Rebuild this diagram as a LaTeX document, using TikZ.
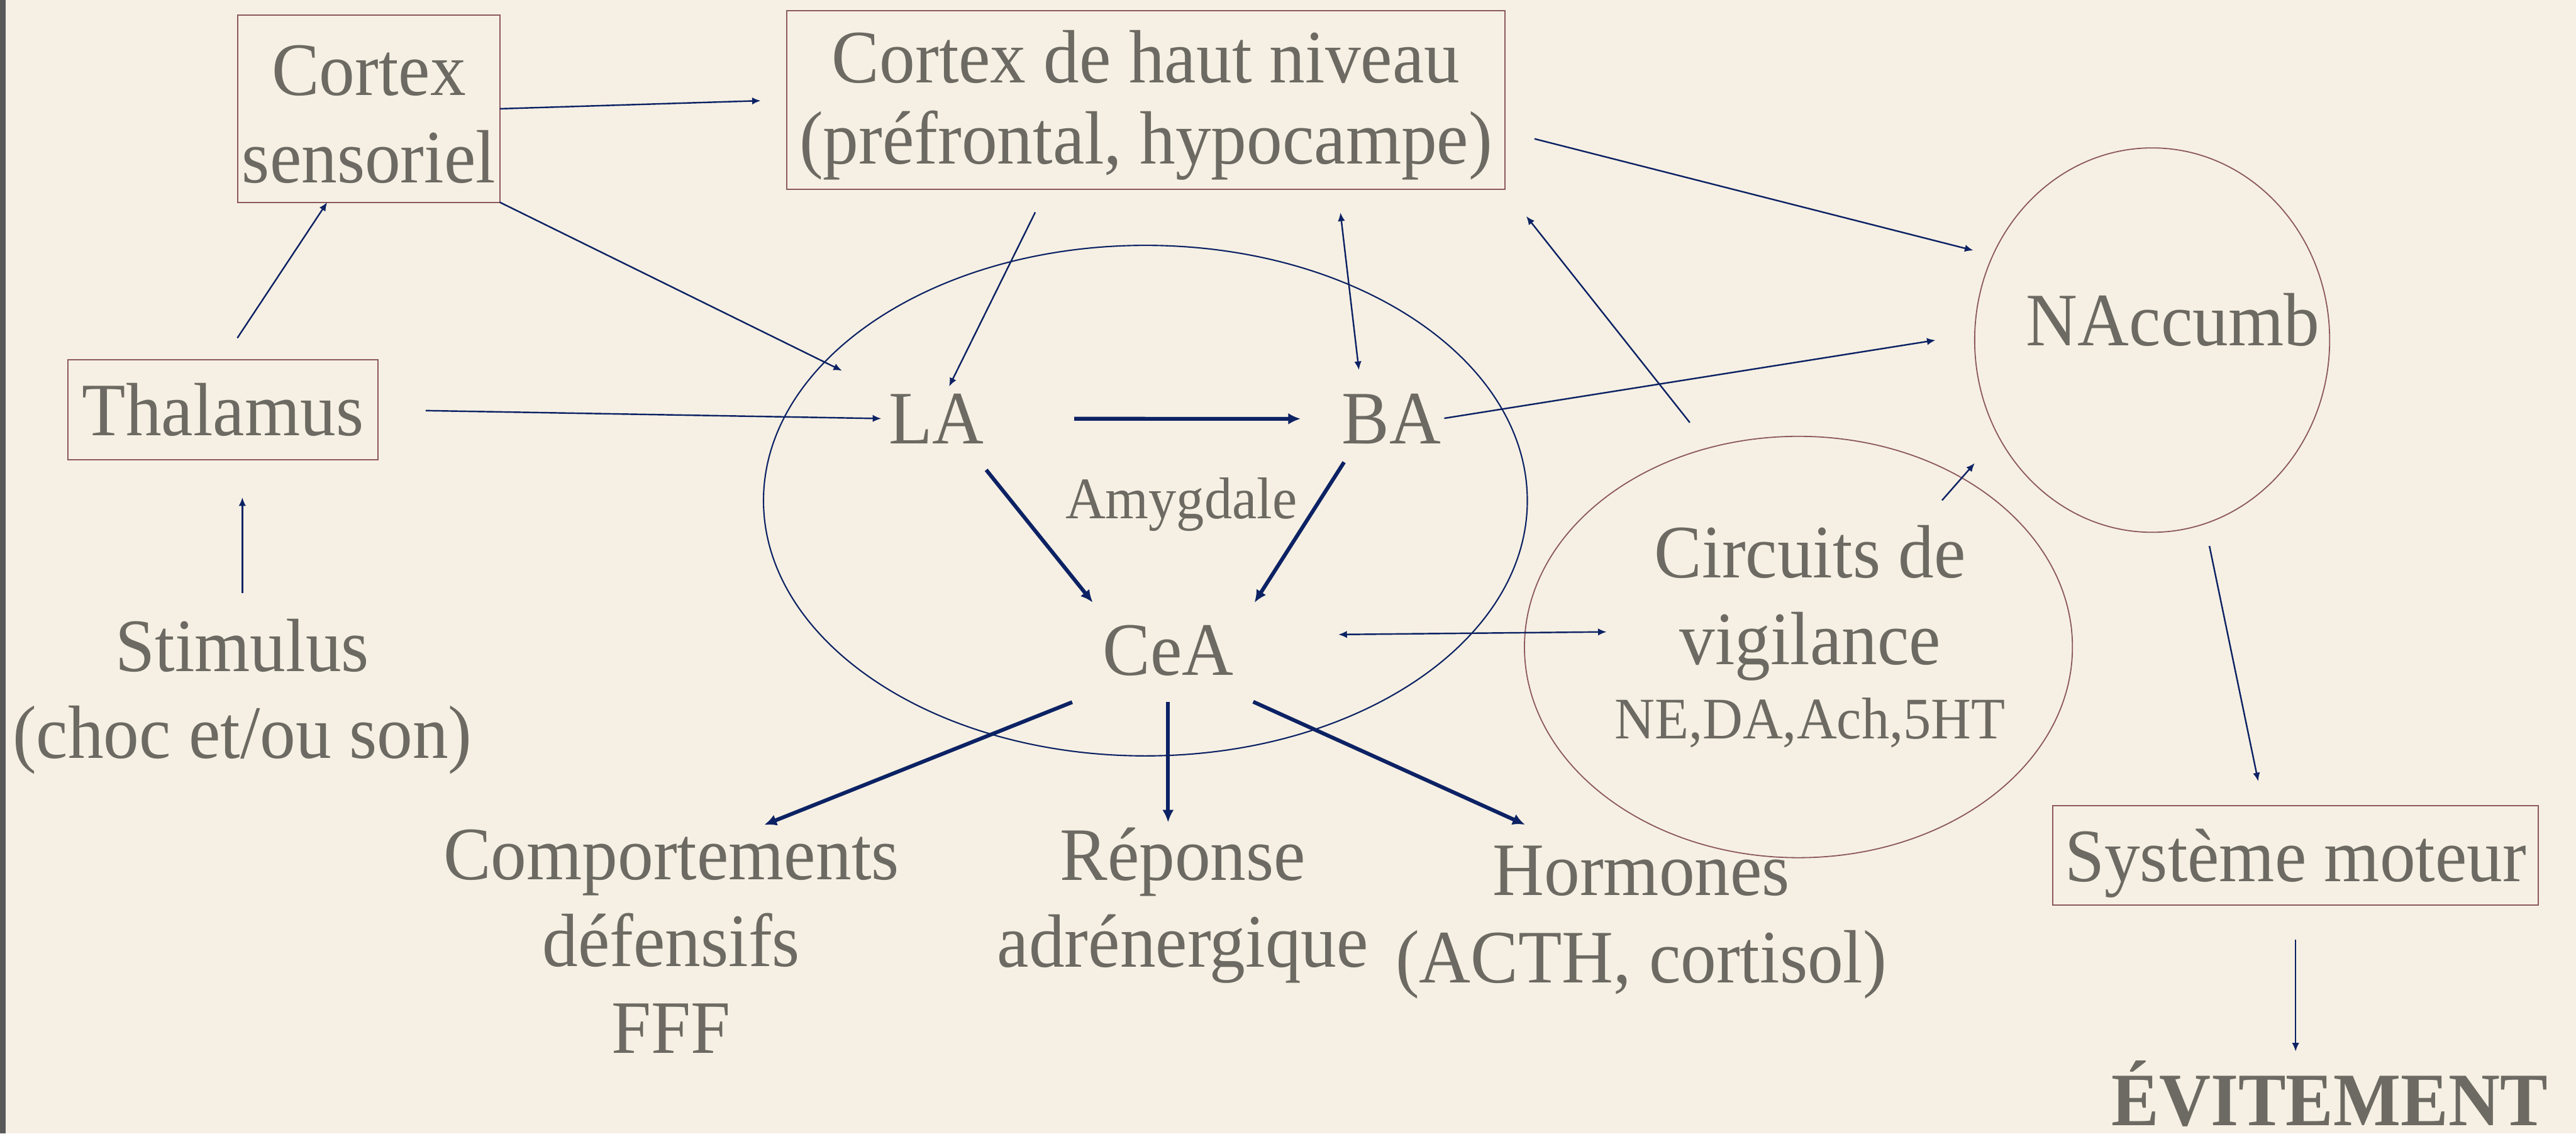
\documentclass[tikz,border=0pt]{standalone}
\usepackage{fontspec}
\setmainfont{Liberation Serif}[FakeStretch=0.945]
\usetikzlibrary{arrows.meta,shapes.geometric}

\definecolor{fond}{RGB}{246,240,228}
\definecolor{encre}{RGB}{108,106,98}
\definecolor{bord}{RGB}{140,88,94}
\definecolor{marine}{RGB}{12,34,100}

\newcommand{\taillegrande}{\fontsize{39.5}{45.5}\selectfont}
\newcommand{\taillepetite}{\fontsize{30.8}{36}\selectfont}

\tikzset{
  caisse/.style={draw=bord, line width=0.6pt, inner sep=0pt, outer sep=0pt, text=encre, font=\taillegrande, align=center},
  ovale/.style={ellipse, draw=bord, line width=0.6pt, inner sep=0pt, outer sep=0pt},
  texte/.style={text=encre, inner sep=0pt, outer sep=0pt, font=\taillegrande, align=center},
  fin/.style={marine, line width=0.8pt, >={Latex[length=4.5pt,width=3.8pt]}, ->},
  gros/.style={marine, line width=2pt, >={Latex[length=6.5pt,width=6pt]}, ->}
}

\begin{document}
\begin{tikzpicture}[x=0.3022mm, y=-0.3022mm]
    % 1. FOND DE LA DIAPOSITIVE
    \fill[fond] (0,0) rectangle (1568,690);
    \fill[black!65] (0,0) rectangle (3.6,690);
    \useasboundingbox (0,0) rectangle (1568,690);

    % 2. CORTEX ET THALAMUS
    \node[caisse, minimum width=4.82cm, minimum height=3.44cm] (cs) at (224.5,66.2) {\rule{0pt}{32pt}Cortex\\sensoriel};
    \node[caisse, minimum width=13.21cm, minimum height=3.29cm] (chn) at (697.5,60.8) {\rule{0pt}{33pt}Cortex de haut niveau\\[-3pt](préfrontal, hypocampe)};
    \node[caisse, minimum width=5.70cm, minimum height=1.84cm] (thal) at (135.7,249.4) {Thalamus};
    \node[texte] (stim) at (147.5,423.9) {Stimulus\\(choc et/ou son)};

    % 3. AMYGDALE (LA, BA, CeA)
    \node[ovale, draw=marine, line width=0.7pt, minimum width=14.05cm, minimum height=9.39cm] (amyg) at (697.2,304.7) {};
    \node[texte, anchor=base] (la) at (570,270) {LA};
    \node[texte, anchor=base] (ba) at (847,270) {BA};
    \node[texte, anchor=base] (cea) at (711,411) {CeA};
    \node[texte, anchor=base, font=\taillepetite] (amygtxt) at (719,315.5) {Amygdale};

    % 4. VIGILANCE, NACCUMB, SYSTEME MOTEUR
    \node[ovale, minimum width=10.08cm, minimum height=7.75cm] (vig) at (1094.7,393.8) {};
    \node[texte] (vigtxt) at (1101.8,367.1) {Circuits de\\vigilance};
    \node[texte, anchor=base, font=\taillepetite] (neuro) at (1101.7,449.7) {NE,DA,Ach,5HT};
    \node[ovale, minimum width=6.53cm, minimum height=7.07cm] (nacc) at (1310,207) {};
    \node[texte, anchor=base] (nacctxt) at (1322.6,210.5) {NAccumb};
    \node[caisse, minimum width=8.93cm, minimum height=1.83cm, text depth=0pt] (sm) at (1397.3,520.7) {Système moteur};
    \node[texte, anchor=base, font=\taillegrande\bfseries] (evit) at (1418,685) {ÉVITEMENT};

    % 5. REPONSES
    \node[texte] (comp) at (408.6,573) {Comportements\\défensifs\\FFF};
    \node[texte] (rep) at (720,551.2) {Réponse\\adrénergique};
    \node[texte] (horm) at (999,561.4) {Hormones\\(ACTH, cortisol)};

    % 6. FLECHES FINES
    \draw[fin, shorten >=0.48cm] (cs.east) -- (chn.west);
    \draw[fin, shorten >=0.96cm] (cs.south east) -- (la.north west);
    \draw[fin, shorten <=0.48cm] (thal.north) -- (cs.246.7);
    \draw[fin, shorten <=0.47cm, shorten >=0.69cm] (stim.north) -- (stim.north |- thal.south);
    \draw[fin, shorten <=0.88cm, shorten >=0.14cm] (thal.east) -- (la.west);
    \draw[fin, shorten <=0.47cm, shorten >=0.15cm] (chn.222.8) -- (la.70);
    \draw[fin, <->, shorten <=0.43cm, shorten >=0.44cm] (chn.335.6) -- (ba.140);
    \draw[fin, shorten <=0.59cm, shorten >=0.63cm] (vig.114.1) -- (chn.south east);
    \draw[fin, shorten <=0.56cm, shorten >=0.37cm] (chn.355.3) -- (nacc.152.5);
    \draw[fin, shorten <=0.06cm, shorten >=0.73cm] (ba.east) -- (nacc.178);
    \draw[fin, shorten <=-0.55cm, shorten >=0.66cm] (vig.46.9) -- (nacc.212.7);
    \draw[fin, <->, shorten <=1.93cm, shorten >=-1.50cm] (cea.13.5) -- (vig.177.3);
    \draw[fin, shorten <=0.42cm, shorten >=0.46cm] (nacc.286.9) -- (sm.123.2);
    \draw[fin, shorten <=0.63cm, shorten >=0.17cm] (sm.south) -- (sm.south |- evit.north);

    % 7. FLECHES EPAISSES
    \draw[gros, shorten <=1.66cm, shorten >=0.76cm] (la.east) -- (ba.west);
    \draw[gros, shorten <=0.62cm, shorten >=0.54cm] (la.319.6) -- (cea.156);
    \draw[gros, shorten <=0.40cm, shorten >=0.72cm] (ba.215.3) -- (cea.13.4);
    \draw[gros, shorten <=1.30cm, shorten >=0.23cm] (cea.220.9) -- (comp.54.2);
    \draw[gros, shorten <=0.48cm, shorten >=0.10cm] (cea.south) -- (cea.south |- rep.north);
    \draw[gros, shorten <=1.15cm, shorten >=0.96cm] (cea.318) -- (horm.132.5);

\end{tikzpicture}
\end{document}
